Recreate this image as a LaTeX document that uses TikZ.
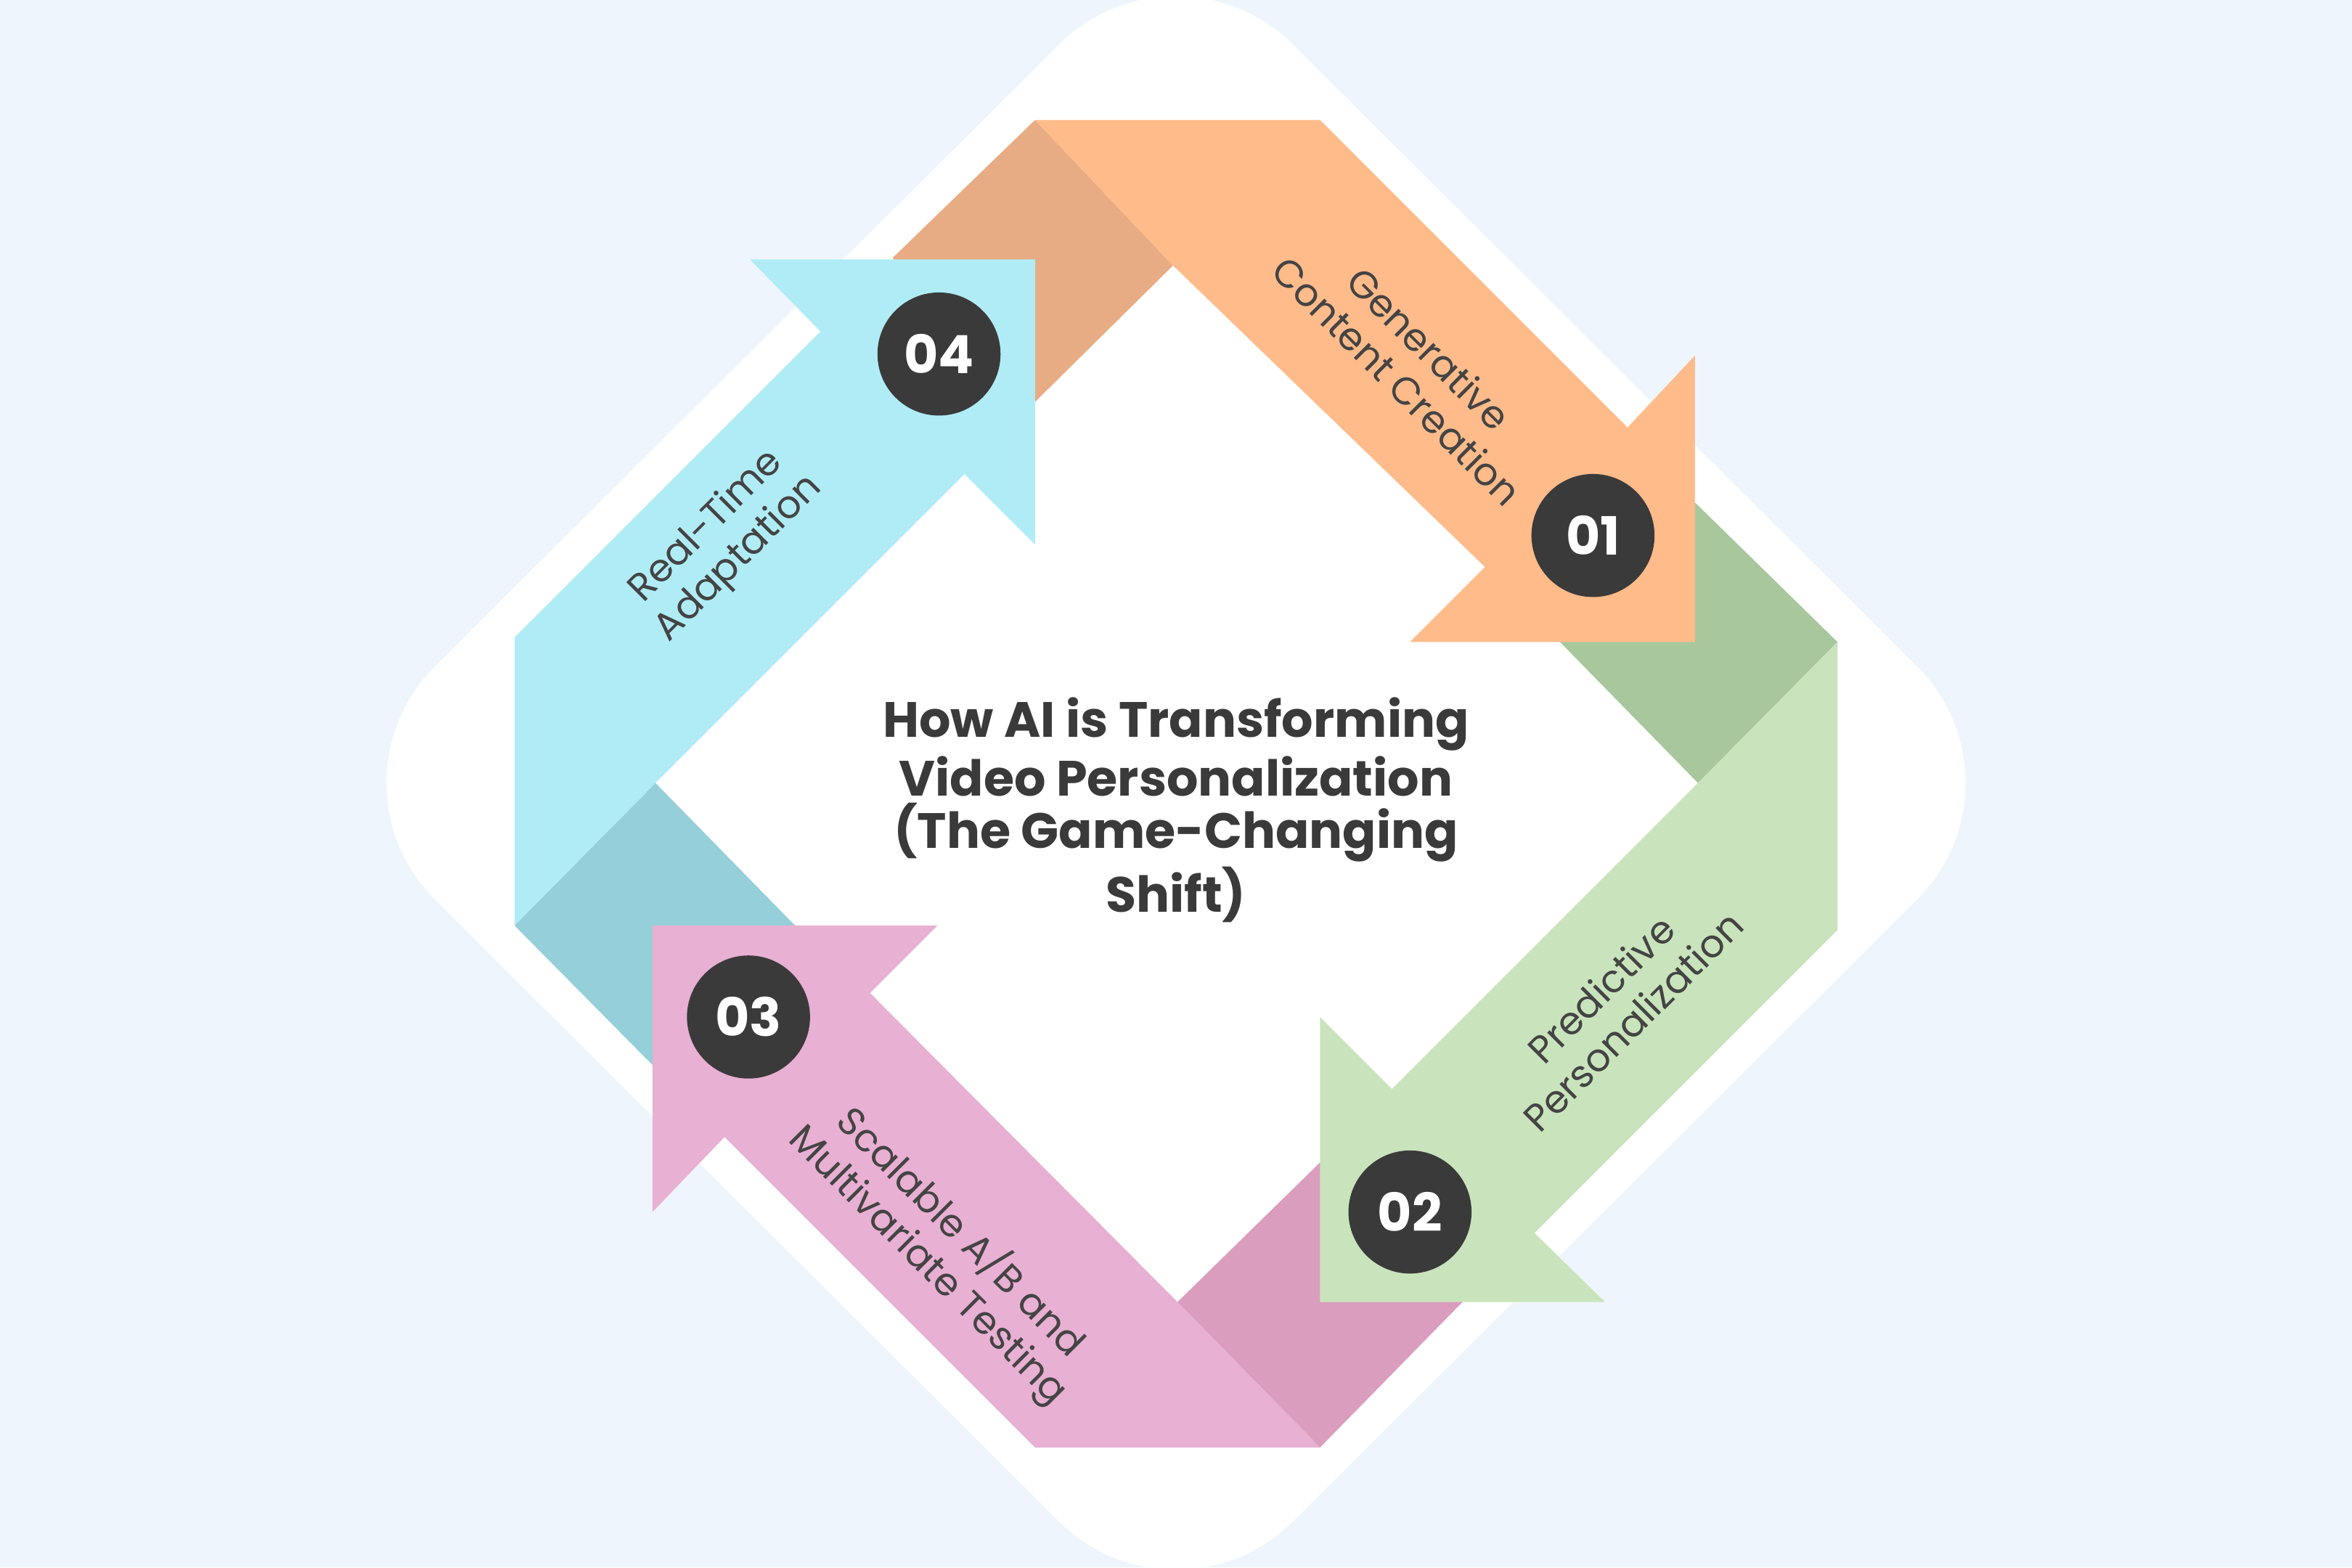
\documentclass[tikz,border=0pt]{standalone}
\usepackage{fontspec}
\setmainfont{Poppins}
\definecolor{bgblue}{HTML}{EFF5FD}
\definecolor{orangeA}{HTML}{FFBB8A}
\definecolor{orangeD}{HTML}{E8AC84}
\definecolor{greenA}{HTML}{C9E4BC}
\definecolor{greenD}{HTML}{A9C79C}
\definecolor{pinkA}{HTML}{E8B0D2}
\definecolor{pinkD}{HTML}{DB9DBE}
\definecolor{blueA}{HTML}{B0ECF6}
\definecolor{blueD}{HTML}{95CFDA}
\definecolor{ink}{HTML}{3A3A3A}
\definecolor{labelgray}{HTML}{444444}

\begin{document}
\begin{tikzpicture}[
  x={(0.01cm,0cm)},
  y={(0cm,-0.01cm)},
  line join=round,
  badge/.style={circle,fill=ink,minimum size=0.82cm,inner sep=0pt,
    text=white,font=\fontsize{10}{12}\selectfont\bfseries},
  steplabel/.style={align=center,text=labelgray,
    font=\fontsize{7.3}{8.6}\selectfont}
]

% ---------- background ----------
\fill[bgblue] (0,0) rectangle (1568,1045);
\useasboundingbox (0,0) rectangle (1568,1045);
\fill[white,rounded corners=1.1cm] (784,-48) -- (1356,522) -- (784,1092) -- (212,522) -- cycle;

% ---------- folds ----------
\fill[orangeD] (690,80) -- (782,177) -- (690,268) -- (595,172) -- cycle;
\fill[greenD] (1130,335) -- (1225,428) -- (1132,522) -- (1040,428) -- cycle;
\fill[pinkD] (785,868) -- (880,775) -- (975,868) -- (880,965) -- cycle;
\fill[blueD] (343,617) -- (437,522) -- (530,617) -- (435,710) -- cycle;

% ---------- arrows ----------
\fill[orangeA] (690,80) -- (880,80) -- (1085,285) -- (1130,237) -- (1130,428)
  -- (940,428) -- (990,378) -- (782,177) -- cycle;
\fill[greenA] (1225,428) -- (1225,620) -- (1023,822) -- (1070,868) -- (880,868)
  -- (880,678) -- (928,726) -- (1132,522) -- cycle;
\fill[pinkA] (880,965) -- (690,965) -- (483,758) -- (435,808) -- (435,617)
  -- (625,617) -- (580,662) -- (785,868) -- cycle;
\fill[blueA] (343,617) -- (343,425) -- (547,221) -- (500,173) -- (690,173)
  -- (690,363) -- (643,316) -- (437,522) -- cycle;

% ---------- badges ----------
\foreach \n/\px/\py in {1/1062/357, 2/940/808, 3/499/678, 4/626/236}{
  \node[badge] (n\n) at (\px,\py) {0\n};
}

% ---------- labels ----------
\node[steplabel,rotate=-45] (lab1) at (942,243) {Generative\\Content Creation};
\node[steplabel,rotate=45] (lab2) at (1078,670) {Predictive\\Personalization};
\node[steplabel,rotate=-45] (lab3) at (630,832) {Scalable A/B and\\Multivariate Testing};
\node[steplabel,rotate=45] (lab4) at (482,362) {Real-Time\\Adaptation};

% ---------- title ----------
\node[align=center,text=ink,font=\fontsize{9.4}{9.9}\selectfont\bfseries] (title)
  at (784,540) {How AI is Transforming\\Video Personalization\\(The Game-Changing\\Shift)};

\end{tikzpicture}
\end{document}
